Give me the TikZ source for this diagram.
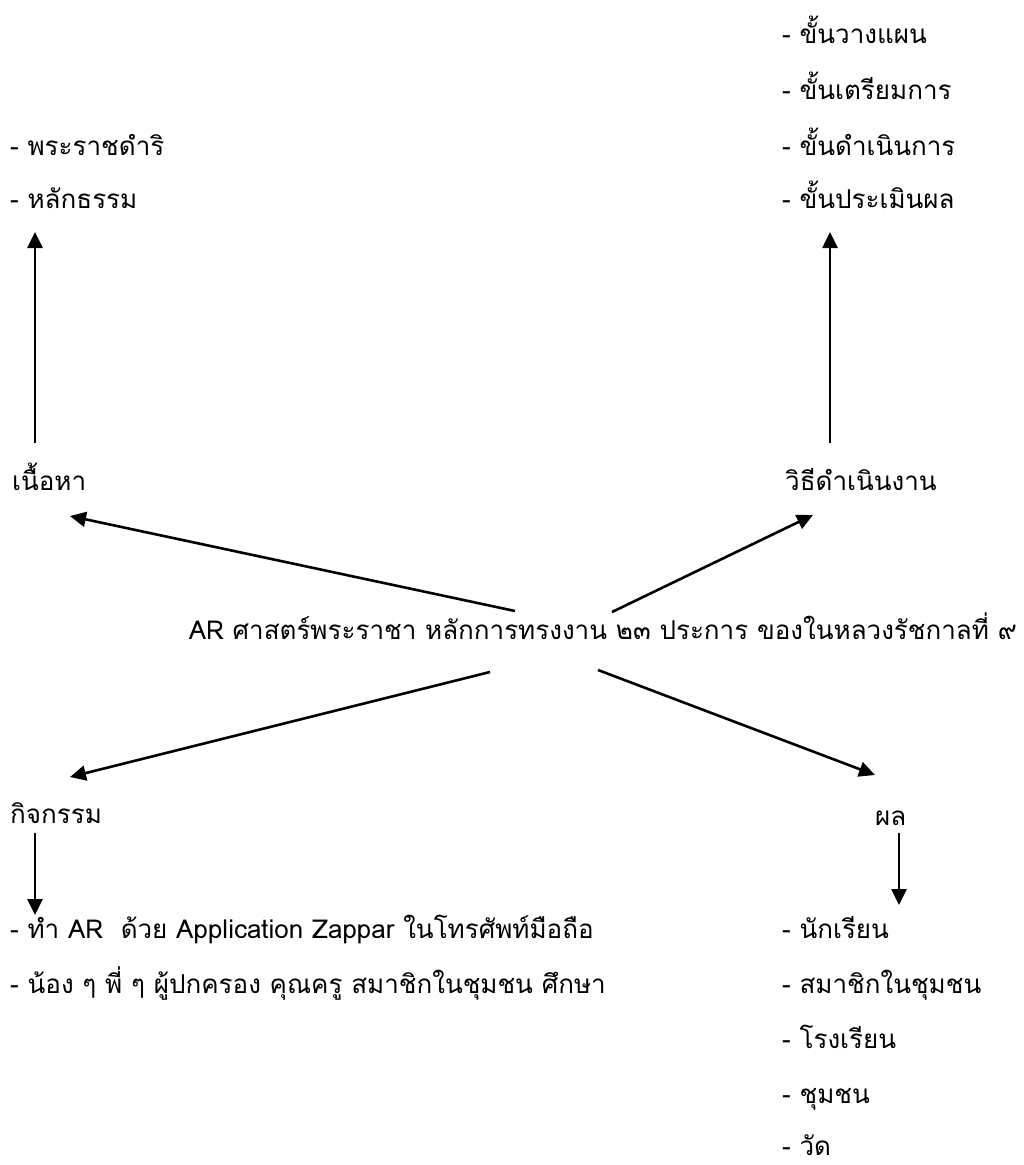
\documentclass[tikz,border=0pt]{standalone}
\usepackage{fontspec}
\setmainfont[Script=Thai]{Loma}
\usetikzlibrary{arrows.meta}
\begin{document}
\begin{tikzpicture}[x=1pt,y=-1pt,
  lbl/.style={anchor=base west,inner sep=0pt,font=\fontsize{26}{28}\selectfont},
  arr/.style={line width=2.6pt,-{Triangle[length=16pt,width=15pt]}}]
\useasboundingbox (0,0) rectangle (1024,1165);
% texts
\node[lbl] (c1) at (10,155) {- พระราชดำริ};
\node[lbl] (c2) at (10,208) {- หลักธรรม};
\node[lbl] (content) at (12,490) {เนื้อหา};
\node[lbl] (m1) at (782,43) {- ขั้นวางแผน};
\node[lbl] (m2) at (782,99) {- ขั้นเตรียมการ};
\node[lbl] (m3) at (782,155) {- ขั้นดำเนินการ};
\node[lbl] (m4) at (782,208) {- ขั้นประเมินผล};
\node[lbl] (method) at (785,490) {วิธีดำเนินงาน};
\node[lbl,anchor=base east] (center) at (1017,639) {AR ศาสตร์พระราชา หลักการทรงงาน ๒๓ ประการ ของในหลวงรัชกาลที่ ๙};
\node[lbl] (act) at (10,823) {กิจกรรม};
\node[lbl] (a1) at (10,938) {- ทำ AR\ \ ด้วย Application Zappar ในโทรศัพท์มือถือ};
\node[lbl] (a2) at (10,993) {- น้อง ๆ พี่ ๆ ผู้ปกครอง คุณครู สมาชิกในชุมชน ศึกษา};
\node[lbl] (res) at (875,825) {ผล};
\node[lbl] (r1) at (782,938) {- นักเรียน};
\node[lbl] (r2) at (782,993) {- สมาชิกในชุมชน};
\node[lbl] (r3) at (782,1048) {- โรงเรียน};
\node[lbl] (r4) at (782,1103) {- ชุมชน};
\node[lbl] (r5) at (782,1155) {- วัด};
% connector points
\coordinate (pA) at (35,443);
\coordinate (pAt) at (35,232);
\coordinate (pB) at (830,443);
\coordinate (pBt) at (830,232);
\coordinate (s1) at (515,611);
\coordinate (t1) at (70,516);
\coordinate (s2) at (612,612);
\coordinate (t2) at (813,515);
\coordinate (s3) at (490,672);
\coordinate (t3) at (70,777);
\coordinate (s4) at (598,670);
\coordinate (t4) at (875,775);
\coordinate (pC) at (35,833);
\coordinate (pCt) at (35,915);
\coordinate (pD) at (899,833);
\coordinate (pDt) at (899,905);
\draw[arr] (pA) -- (pAt);
\draw[arr] (pB) -- (pBt);
\draw[arr] (s1) -- (t1);
\draw[arr] (s2) -- (t2);
\draw[arr] (s3) -- (t3);
\draw[arr] (s4) -- (t4);
\draw[arr] (pC) -- (pCt);
\draw[arr] (pD) -- (pDt);
\end{tikzpicture}
\end{document}
